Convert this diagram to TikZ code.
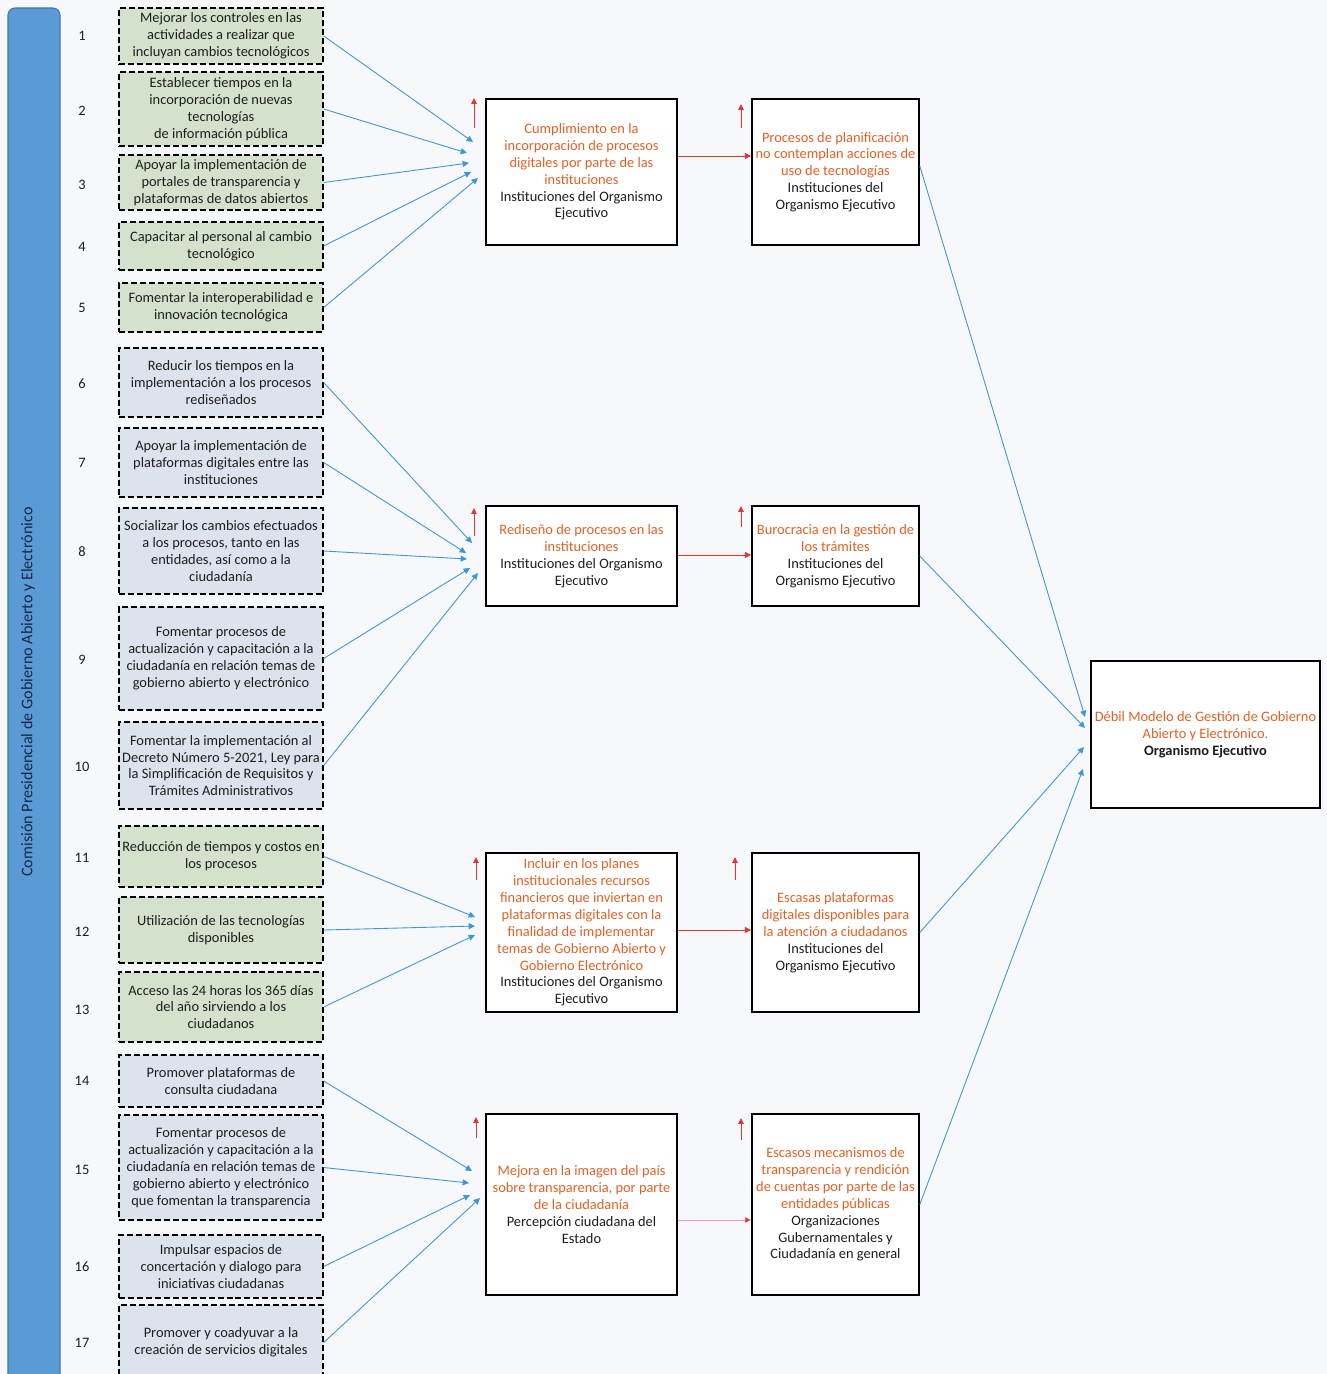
\documentclass[tikz,border=0pt]{standalone}
\usepackage{fontspec}
\setmainfont{Carlito}
\usetikzlibrary{arrows.meta,calc}

\definecolor{bgc}{RGB}{246,248,252}
\definecolor{barblue}{RGB}{91,155,213}
\definecolor{barline}{RGB}{65,120,180}
\definecolor{bartext}{RGB}{22,40,72}
\definecolor{greenfill}{RGB}{212,226,205}
\definecolor{grayfill}{RGB}{221,227,237}
\definecolor{orangetxt}{RGB}{226,98,38}
\definecolor{linkblue}{RGB}{62,150,218}
\definecolor{linkred}{RGB}{225,55,50}
\definecolor{inkgray}{RGB}{30,30,30}

% orange line of a box
\newcommand\ot[1]{\textcolor{orangetxt}{#1}}
% box given by its corners in pixel units: name, x1, y1, x2, y2, style, text
\newcommand\mkbox[7]{%
  \node[#6, minimum width={(#4-#2)*0.02cm}, minimum height={(#5-#3)*0.02cm}]
    (#1) at ({(#2+#4)/2},{(#3+#5)/2}) {#7};}

\begin{document}
\begin{tikzpicture}[x=0.02cm,y=-0.02cm,
  txt/.style={font=\fontsize{8.2}{9.6}\selectfont, align=center, text=inkgray},
  goal/.style={txt, draw=black, dash pattern=on 3.4pt off 1.7pt, line width=0.8pt, inner sep=0pt},
  gbox/.style={goal, fill=greenfill},
  bbox/.style={goal, fill=grayfill},
  effect/.style={txt, draw=black, line width=0.9pt, fill=white, inner sep=0pt},
  num/.style={font=\fontsize{8.2}{9.6}\selectfont, text=inkgray},
  feed/.style={draw=linkblue, line width=0.5pt, -{Triangle[length=3.6pt,width=3.4pt]}},
  chain/.style={draw=linkred, line width=0.5pt, -{Triangle[length=3.6pt,width=3.4pt]}},
  rise/.style={draw=linkred, line width=0.5pt, -{Triangle[length=3.4pt,width=3.2pt]}}
]
\fill[bgc] (0,0) rectangle (1327,1374);
\useasboundingbox (0,0) rectangle (1327,1374);
\clip (0,0) rectangle (1327,1374);

% side bar
\draw[fill=barblue, draw=barline, line width=0.6pt, rounded corners=4pt] (8,8) rectangle (60,1420);
\node[rotate=90, font=\fontsize{9.2}{11}\selectfont, text=bartext] (title) at (28,692)
  {Comisión Presidencial de Gobierno Abierto y Electrónico};

% numbers
\foreach \n/\y in {1/36,2/111,3/185,4/247,5/308,6/384,7/463,8/552,9/660,10/767,
                   11/858,12/932,13/1010,14/1081,15/1170,16/1267,17/1343}
  \node[num] (n\n) at (82,\y) {\n};

% actions
\mkbox{g1}{119}{8}{323}{64}{gbox}{Mejorar los controles en las\\actividades a realizar que\\incluyan cambios tecnológicos}
\mkbox{g2}{119}{72}{323}{146}{gbox}{Establecer tiempos en la\\incorporación de nuevas\\tecnologías\\de información pública}
\mkbox{g3}{119}{155}{323}{210}{gbox}{Apoyar la implementación de\\portales de transparencia y\\plataformas de datos abiertos}
\mkbox{g4}{119}{222}{323}{270}{gbox}{Capacitar al personal al cambio\\tecnológico}
\mkbox{g5}{119}{283}{323}{332}{gbox}{Fomentar la interoperabilidad e\\innovación tecnológica}
\mkbox{g6}{119}{348}{323}{417}{bbox}{Reducir los tiempos en la\\implementación a los procesos\\rediseñados}
\mkbox{g7}{119}{428}{323}{497}{bbox}{Apoyar la implementación de\\plataformas digitales entre las\\instituciones}
\mkbox{g8}{119}{508}{323}{594}{bbox}{Socializar los cambios efectuados\\a los procesos, tanto en las\\entidades, así como a la\\ciudadanía}
\mkbox{g9}{119}{607}{323}{710}{bbox}{Fomentar procesos de\\actualización y capacitación a la\\ciudadanía en relación temas de\\gobierno abierto y electrónico}
\mkbox{g10}{119}{722}{323}{809}{bbox}{Fomentar la implementación al\\Decreto Número 5-2021, Ley para\\la Simplificación de Requisitos y\\Trámites Administrativos}
\mkbox{g11}{119}{826}{323}{887}{gbox}{Reducción de tiempos y costos en\\los procesos}
\mkbox{g12}{119}{897}{323}{963}{gbox}{Utilización de las tecnologías\\disponibles}
\mkbox{g13}{119}{972}{323}{1042}{gbox}{Acceso las 24 horas los 365 días\\del año sirviendo a los\\ciudadanos}
\mkbox{g14}{119}{1055}{323}{1107}{bbox}{Promover plataformas de\\consulta ciudadana}
\mkbox{g15}{119}{1115}{323}{1220}{bbox}{Fomentar procesos de\\actualización y capacitación a la\\ciudadanía en relación temas de\\gobierno abierto y electrónico\\que fomentan la transparencia}
\mkbox{g16}{119}{1235}{323}{1298}{bbox}{Impulsar espacios de\\concertación y dialogo para\\iniciativas ciudadanas}
\mkbox{g17}{119}{1305}{323}{1380}{bbox}{Promover y coadyuvar a la\\creación de servicios digitales}

% results
\mkbox{A1}{486}{99}{677}{245}{effect}{\ot{Cumplimiento en la}\\\ot{incorporación de procesos}\\\ot{digitales por parte de las}\\\ot{instituciones}\\Instituciones del Organismo\\Ejecutivo}
\mkbox{A2}{486}{506}{677}{606}{effect}{\ot{Rediseño de procesos en las}\\\ot{instituciones}\\Instituciones del Organismo\\Ejecutivo}
\mkbox{A3}{486}{853}{677}{1012}{effect}{\ot{Incluir en los planes}\\\ot{institucionales recursos}\\\ot{financieros que inviertan en}\\\ot{plataformas digitales con la}\\\ot{finalidad de implementar}\\\ot{temas de Gobierno Abierto y}\\\ot{Gobierno Electrónico}\\Instituciones del Organismo\\Ejecutivo}
\mkbox{A4}{486}{1114}{677}{1295}{effect}{\ot{Mejora en la imagen del país}\\\ot{sobre transparencia, por parte}\\\ot{de la ciudadanía}\\Percepción ciudadana del\\Estado}

% problems
\mkbox{B1}{752}{99}{919}{245}{effect}{\ot{Procesos de planificación}\\\ot{no contemplan acciones de}\\\ot{uso de tecnologías}\\Instituciones del\\Organismo Ejecutivo}
\mkbox{B2}{752}{506}{919}{606}{effect}{\ot{Burocracia en la gestión de}\\\ot{los trámites}\\Instituciones del\\Organismo Ejecutivo}
\mkbox{B3}{752}{853}{919}{1012}{effect}{\ot{Escasas plataformas}\\\ot{digitales disponibles para}\\\ot{la atención a ciudadanos}\\Instituciones del\\Organismo Ejecutivo}
\mkbox{B4}{752}{1114}{919}{1295}{effect}{\ot{Escasos mecanismos de}\\\ot{transparencia y rendición}\\\ot{de cuentas por parte de las}\\\ot{entidades públicas}\\Organizaciones\\Gubernamentales y\\Ciudadanía en general}

% central problem
\mkbox{F}{1091}{661}{1320}{808}{effect}{\ot{Débil Modelo de Gestión de Gobierno}\\\ot{Abierto y Electrónico.}\\\textbf{Organismo Ejecutivo}}

% arrow ends in front of the result boxes
\foreach \k/\x/\y in {1/473/142,2/467/153,3/469/163,4/471/172,5/478/178,
                      6/472/543,7/466/553,8/467/559,9/470/568,10/478/573,
                      11/475/917,12/475/926,13/475/935,
                      14/472/1171,15/469/1183,16/470/1195,17/480/1198}
  \coordinate (e\k) at (\x,\y);
\foreach \k in {1,...,17}
  \draw[feed] (g\k.east) -- (e\k);

% ends in front of the central problem
\coordinate (f1) at (1085,717);
\coordinate (f2) at (1085,728);
\coordinate (f3) at (1084,747);
\coordinate (f4) at (1083,769);
\draw[feed] ($(B1.east)+(0,-6)$) -- (f1);
\draw[feed] (B2.east) -- (f2);
\draw[feed] (B3.east) -- (f3);
\draw[feed] (B4.east) -- (f4);

% result to problem
\coordinate (r1) at (0,156);
\coordinate (r2) at (0,555);
\coordinate (r3) at (0,930);
\coordinate (r4) at (0,1220);
\draw[chain] (A1.east |- r1) -- (B1.west |- r1);
\draw[chain] (A2.east |- r2) -- (B2.west |- r2);
\draw[chain] (A3.east |- r3) -- (B3.west |- r3);
\draw[chain, draw opacity=0.45] (A4.east |- r4) -- (B4.west |- r4);

% small rising marks above the boxes
\foreach \k/\x/\ya/\yb in {a1/474/128/98, b1/741/128/104, a2/474/536/508, b2/741/527/506,
                           a3/476/880/857, b3/735/880/857, a4/476/1138/1117, b4/741/1140/1118}{
  \coordinate (u\k) at (\x,\ya);
  \coordinate (v\k) at (\x,\yb);
  \draw[rise] (u\k) -- (v\k);
}
\end{tikzpicture}
\end{document}
